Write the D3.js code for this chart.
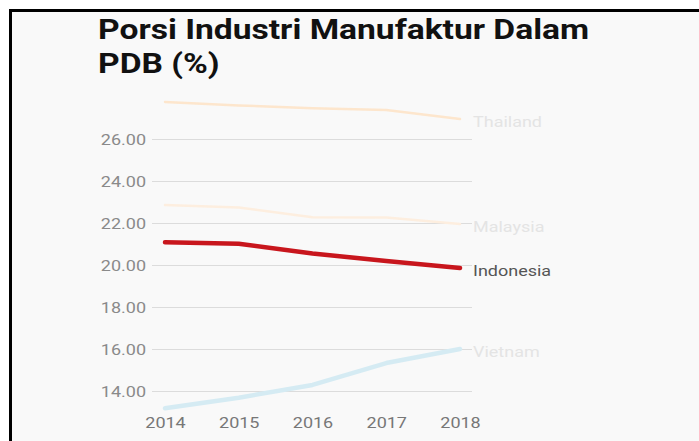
<!DOCTYPE html>
<html>
<head>
<meta charset="utf-8">
<script src="https://cdn.jsdelivr.net/npm/d3@7"></script>
<style>
  html, body { margin: 0; padding: 0; background: #fff; }
  svg { display: block; font-family: Roboto, "Noto Sans", sans-serif; }
</style>
</head>
<body>
<div id="chart"></div>
<script>
// data
const years = [2014, 2015, 2016, 2017, 2018];
const thailand = [27.76, 27.6, 27.47, 27.38, 26.95];
const malaysia = [22.86, 22.74, 22.27, 22.26, 21.95];
const indonesia = [21.08, 21.01, 20.55, 20.19, 19.86];
const vietnam = [13.18, 13.68, 14.29, 15.33, 16.0];
const yTicks = [14, 16, 18, 20, 22, 24, 26];

const series = [
  {name: 'Thailand', values: thailand, color: '#fde6cd', width: 2.5, label: '#e4e4e4'},
  {name: 'Malaysia', values: malaysia, color: '#fdeedf', width: 2.5, label: '#e4e4e4'},
  {name: 'Vietnam', values: vietnam, color: '#d5ebf3', width: 4.5, label: '#e4e4e4'},
  {name: 'Indonesia', values: indonesia, color: '#c8161d', width: 4.5, label: '#555'}
];

const W = 699, H = 441;
const sx = 1.2; // the picture is stretched sideways

const svg = d3.select('#chart').append('svg')
  .attr('width', W)
  .attr('height', H);

// panel + frame (only top and left edges show)
svg.append('rect').attr('x', 9).attr('y', 9).attr('width', W).attr('height', H)
  .attr('fill', '#f9f9f9');
svg.append('path')
  .attr('d', `M10.5,${H} V10.5 H${W}`)
  .attr('fill', 'none').attr('stroke', '#000').attr('stroke-width', 3);

// title
const title = ['Porsi Industri Manufaktur Dalam', 'PDB (%)'];
svg.selectAll('.title').data(title).enter().append('text')
  .attr('class', 'title')
  .attr('transform', (d, i) => `translate(98,${39 + i * 34}) scale(${sx},1)`)
  .attr('font-size', 28)
  .attr('font-weight', 'bold')
  .attr('fill', '#111')
  .text(d => d);

const x = d3.scalePoint().domain(years).range([165, 460]);
const y = d3.scaleLinear().domain([14, 26]).range([391, 139]);

// y axis with gridlines
const yAxis = svg.append('g')
  .attr('transform', 'translate(152,0)')
  .call(d3.axisLeft(y).tickValues(yTicks).tickSize(-320).tickFormat(d3.format('.2f')));
yAxis.select('.domain').remove();
yAxis.selectAll('.tick line').attr('stroke', '#dcdcdc');
yAxis.selectAll('.tick text')
  .attr('x', null).attr('dy', null)
  .attr('transform', `translate(-6,5) scale(${sx},1)`)
  .attr('fill', '#8a8a8a')
  .attr('font-size', 15)
  .attr('font-family', 'Roboto, sans-serif');

// x axis
const xAxis = svg.append('g')
  .attr('transform', 'translate(0,400)')
  .call(d3.axisBottom(x).tickSize(0).tickFormat(d3.format('d')));
xAxis.select('.domain').remove();
xAxis.selectAll('.tick text')
  .attr('y', null).attr('dy', null)
  .attr('transform', `translate(0,28) scale(${sx},1)`)
  .attr('fill', '#777')
  .attr('font-size', 15)
  .attr('font-family', 'Roboto, sans-serif');

// lines
const line = d3.line()
  .x((d, i) => x(years[i]))
  .y(d => y(d));

svg.selectAll('.series').data(series).enter().append('path')
  .attr('class', 'series')
  .attr('d', d => line(d.values))
  .attr('fill', 'none')
  .attr('stroke', d => d.color)
  .attr('stroke-width', d => d.width)
  .attr('stroke-linecap', 'round')
  .attr('stroke-linejoin', 'round');

// end labels
svg.selectAll('.end-label').data(series).enter().append('text')
  .attr('class', 'end-label')
  .attr('transform', d => `translate(473,${y(d.values[d.values.length - 1]) + 8}) scale(${sx},1)`)
  .attr('font-size', 15)
  .attr('fill', d => d.label)
  .text(d => d.name);
</script>
</body>
</html>
